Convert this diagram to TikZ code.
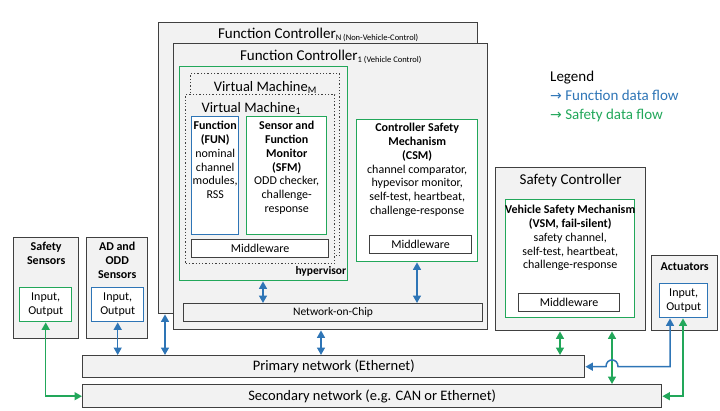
\documentclass[tikz,border=0pt]{standalone}
\usepackage{fontspec}
\setmainfont{Carlito}
\newfontfamily\arrowfont{DejaVu Sans}
\usetikzlibrary{arrows.meta, positioning}
\definecolor{panel}{HTML}{F2F2F2}
\definecolor{frame}{HTML}{404040}
\definecolor{fblue}{HTML}{2E75B6}
\definecolor{sgreen}{HTML}{22A75A}

\begin{document}
\begin{tikzpicture}[x=1pt, y=-1pt,
    ctrl/.style={rectangle, draw=frame, fill=panel, line width=1.4pt, inner sep=0pt, anchor=north west},
    safebox/.style={rectangle, draw=sgreen, fill=white, line width=1.4pt, inner sep=0pt, anchor=north west},
    funbox/.style={rectangle, draw=fblue, fill=white, line width=1.4pt, inner sep=0pt, anchor=north west},
    vmbox/.style={rectangle, draw=black!75, fill=panel, dotted, line width=1.3pt, inner sep=0pt, anchor=north west},
    ware/.style={rectangle, draw=frame, fill=white, line width=1.1pt, inner sep=0pt, anchor=north west, font=\fontsize{12}{14}\selectfont},
    net/.style={rectangle, draw=frame, fill=panel, line width=1.4pt, inner sep=0pt, anchor=north west, font=\fontsize{14.5}{16}\selectfont},
    head/.style={font=\fontsize{15}{17}\selectfont, inner sep=0pt, anchor=base},
    desc/.style={align=center, inner sep=0pt, anchor=north, font=\fontsize{12}{13.8}\selectfont},
    iobox/.style={align=center, font=\fontsize{12}{13.8}\selectfont},
    legend/.style={font=\fontsize{15}{17}\selectfont, inner sep=0pt, anchor=base west},
    farrow/.style={{Triangle[length=7.5pt,width=8pt]}-{Triangle[length=7.5pt,width=8pt]}, fblue, line width=1.5pt},
    sarrow/.style={{Triangle[length=7.5pt,width=8pt]}-{Triangle[length=7.5pt,width=8pt]}, sgreen, line width=1.5pt}
  ]
    \useasboundingbox (0,0) rectangle (720,410);

    % Function controllers
    \node (fcn) [ctrl, minimum width=319pt, minimum height=291pt] at (158,22) {};
    \node [head] at ([yshift=-16pt]fcn.north) {Function Controller{\fontsize{8.5}{9}\selectfont\raisebox{-2.5pt}{N (Non-Vehicle-Control)}}};
    \node (fc1) [ctrl, minimum width=314pt, minimum height=286pt] at (173,43) {};
    \node [head] at ([yshift=-17pt]fc1.north) {Function Controller{\fontsize{8.5}{9}\selectfont\raisebox{-2.5pt}{1 (Vehicle Control)}}};

    % Hypervisor and virtual machines
    \node (hyp) [safebox, fill=none, minimum width=168pt, minimum height=214pt] at (179,66) {};
    \node [font=\bfseries\fontsize{11.5}{13}\selectfont, inner sep=0pt, anchor=base east] at ([xshift=-2pt, yshift=7pt]hyp.south east) {hypervisor};
    \node (vmm) [vmbox, minimum width=149pt, minimum height=182pt] at (190,73) {};
    \node [head, font=\fontsize{14.5}{16}\selectfont] at ([yshift=-18pt]vmm.north) {Virtual Machine\raisebox{-2pt}{\fontsize{10}{10}\selectfont M}};
    \node (vm1) [vmbox, minimum width=149pt, minimum height=169pt] at (185,94) {};
    \node [head, font=\fontsize{14.5}{16}\selectfont] at ([xshift=-9pt, yshift=-18pt]vm1.north) {Virtual Machine\raisebox{-2pt}{\fontsize{10}{10}\selectfont 1}};

    \node (fun) [funbox, minimum width=47pt, minimum height=118pt] at (191,116) {};
    \node [desc, below=5pt of fun.north] {\textbf{Function}\\\textbf{(FUN)}\\nominal\\channel\\modules,\\RSS};
    \node (sfm) [safebox, minimum width=80pt, minimum height=118pt] at (246,116) {};
    \node [desc, below=5pt of sfm.north] {\textbf{Sensor and}\\\textbf{Function}\\\textbf{Monitor}\\\textbf{(SFM)}\\ODD checker,\\challenge-\\response};
    \node (mw1) [ware, minimum width=137pt, minimum height=18pt] at (191,239) {Middleware};

    % Controller safety mechanism
    \node (csm) [safebox, minimum width=121pt, minimum height=142pt] at (356,119) {};
    \node [desc, below=4pt of csm.north] {\textbf{Controller Safety}\\\textbf{Mechanism}\\\textbf{(CSM)}\\channel comparator,\\hypevisor monitor,\\self-test, heartbeat,\\challenge-response};
    \node (mw2) [ware, minimum width=102pt, minimum height=18pt] at (369,235) {Middleware};

    \node (noc) [ware, fill=panel, font=\fontsize{11.5}{13}\selectfont, minimum width=299pt, minimum height=18pt] at (183,303) {Network-on-Chip};

    % Safety controller
    \node (sc) [ctrl, minimum width=150pt, minimum height=163pt] at (495,167) {};
    \node [head] at ([yshift=-17pt]sc.north) {Safety Controller};
    \node (vsm) [safebox, minimum width=129pt, minimum height=118pt] at (505,199) {};
    \node [desc, below=6pt of vsm.north] {\textbf{Vehicle Safety Mechanism}\\\textbf{(VSM, fail-silent)}\\safety channel,\\self-test, heartbeat,\\challenge-response};
    \node (mw3) [ware, minimum width=101pt, minimum height=18pt] at (518,293) {Middleware};

    % Sensors and actuators
    \node (ss) [ctrl, minimum width=65pt, minimum height=101pt] at (13,237) {};
    \node [desc, below=5pt of ss.north] {\textbf{Safety}\\\textbf{Sensors}};
    \node (ssio) [safebox, iobox, minimum width=52pt, minimum height=34pt] at (19,287) {Input,\\Output};
    \node (ad) [ctrl, minimum width=61pt, minimum height=101pt] at (86,237) {};
    \node [desc, below=5pt of ad.north] {\textbf{AD and}\\\textbf{ODD}\\\textbf{Sensors}};
    \node (adio) [funbox, iobox, minimum width=52pt, minimum height=34pt] at (91,287) {Input,\\Output};
    \node (act) [ctrl, minimum width=66pt, minimum height=75pt] at (651,255) {};
    \node [desc, below=8pt of act.north] {\textbf{Actuators}};
    \node (actio) [funbox, iobox, minimum width=48pt, minimum height=34pt] at (659,283) {Input,\\Output};

    % Networks
    \node (prim) [net, minimum width=502pt, minimum height=22pt] at (82,355) {Primary network (Ethernet)};
    \node (sec) [net, minimum width=579pt, minimum height=23pt] at (82,384) {Secondary network (e.g. CAN or Ethernet)};

    % Legend
    \node (leg) [legend] at (550,81) {Legend};
    \node [legend, text=fblue] at (550,100) {{\arrowfont\fontsize{14}{16}\selectfont →} Function data flow};
    \node [legend, text=sgreen] at (550,119) {{\arrowfont\fontsize{14}{16}\selectfont →} Safety data flow};

    % Connections
    \coordinate (xh) at (263,0);
    \coordinate (xc) at (417,0);
    \coordinate (xf1) at (321,0);
    \coordinate (xfn) at (165,0);
    \coordinate (xs1) at (560,0);
    \coordinate (xs2) at (612,0);
    \coordinate (xab) at (670,0);
    \coordinate (xag) at (683,0);
    \coordinate (hopr) at (618,0);
    \coordinate (hopl) at (606,0);
    \draw [farrow] (hyp.south -| xh) -- (noc.north -| xh);
    \draw [farrow] (csm.south -| xc) -- (noc.north -| xc);
    \draw [farrow] (fc1.south -| xf1) -- (prim.north -| xf1);
    \draw [farrow] (fcn.south -| xfn) -- (prim.north -| xfn);
    \draw [farrow] (adio.south) -- (prim.north -| adio.south);
    \draw [sarrow] (ssio.south) |- (sec.west);
    \draw [sarrow] (sc.south -| xs1) -- (prim.north -| xs1);
    \draw [sarrow] (sc.south -| xs2) -- (sec.north -| xs2);
    \draw [farrow] (actio.south -| xab) |- (prim.east -| hopr) .. controls +(0,-9) and +(0,-9) .. (prim.east -| hopl) -- (prim.east);
    \draw [sarrow] (actio.south -| xag) |- (sec.east);
  \end{tikzpicture}
\end{document}
